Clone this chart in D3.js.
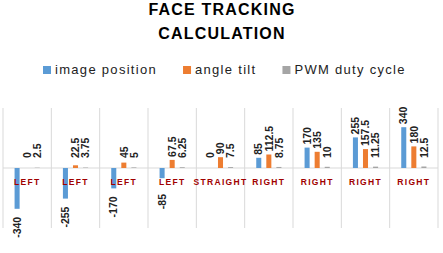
<!DOCTYPE html>
<html>
<head>
<meta charset="utf-8">
<script src="https://cdn.jsdelivr.net/npm/d3@7"></script>
<style>
  body { margin: 0; background: #fff; }
  text { font-family: Arial, "Liberation Sans", sans-serif; }
</style>
</head>
<body>
<div id="chart"></div>
<script>
// data
var categories = ["LEFT", "LEFT", "LEFT", "LEFT", "STRAIGHT", "RIGHT", "RIGHT", "RIGHT", "RIGHT"];
var seriesNames = ["image position", "angle tilt", "PWM duty cycle"];
var imagePosition = [-340, -255, -170, -85, 0, 85, 170, 255, 340];
var angleTilt = [0, 22.5, 45, 67.5, 90, 112.5, 135, 157.5, 180];
var pwmDuty = [2.5, 3.75, 5, 6.25, 7.5, 8.75, 10, 11.25, 12.5];
var titleLines = ["FACE TRACKING", "CALCULATION"];

var colors = ["#5b9bd5", "#ed7d31", "#a5a5a5"];
var W = 443, H = 253;

const svg = d3.select("#chart").append("svg")
    .attr("width", W)
    .attr("height", H);

// title
svg.selectAll(".title")
    .data(titleLines)
    .enter().append("text")
    .attr("class", "title")
    .attr("x", 222)
    .attr("y", (d, i) => 15 + i * 24)
    .attr("text-anchor", "middle")
    .attr("font-size", 16)
    .attr("font-weight", "bold")
    .attr("letter-spacing", 1.2)
    .attr("fill", "#000")
    .text(d => d);

// legend
const legend = svg.append("g").attr("transform", "translate(43,0)");
let lx = 0;
seriesNames.forEach(function(name, i) {
    const g = legend.append("g").attr("transform", "translate(" + lx + ",0)");
    g.append("rect")
        .attr("x", 0).attr("y", 66)
        .attr("width", 8).attr("height", 8)
        .attr("fill", colors[i]);
    const t = g.append("text")
        .attr("x", 12).attr("y", 74)
        .attr("font-size", 13)
        .attr("letter-spacing", 1.3)
        .attr("fill", "#222")
        .text(name);
    lx += 12 + t.node().getComputedTextLength() + 26;
});

// scales
const x = d3.scaleBand()
    .domain(d3.range(categories.length))
    .range([3, 438])
    .padding(0);

const xi = d3.scaleBand()
    .domain([0, 1, 2])
    .range([0, x.bandwidth()])
    .paddingInner(0.5)
    .paddingOuter(1.15);

const y = d3.scaleLinear()
    .domain([-500, 500])
    .range([228, 108]);

// vertical gridlines between categories
const gridX = d3.range(categories.length + 1).map(i => i < categories.length ? x(i) : x(i - 1) + x.bandwidth());
svg.selectAll(".grid")
    .data(gridX)
    .enter().append("line")
    .attr("class", "grid")
    .attr("x1", d => d).attr("x2", d => d)
    .attr("y1", y(500)).attr("y2", y(-500))
    .attr("stroke", "#d9d9d9")
    .attr("stroke-width", 1);

// zero axis
svg.append("line")
    .attr("x1", 3).attr("x2", 438)
    .attr("y1", y(0)).attr("y2", y(0))
    .attr("stroke", "#d9d9d9");

var table = categories.map(function(c, i) {
    return [imagePosition[i], angleTilt[i], pwmDuty[i]];
});

const groups = svg.selectAll(".cat")
    .data(table)
    .enter().append("g")
    .attr("class", "cat")
    .attr("transform", (d, i) => "translate(" + x(i) + ",0)");

groups.selectAll("rect")
    .data(d => d)
    .enter().append("rect")
    .attr("x", (d, j) => xi(j))
    .attr("width", xi.bandwidth())
    .attr("y", d => y(Math.max(0, d)))
    .attr("height", d => Math.abs(y(d) - y(0)))
    .attr("fill", (d, j) => colors[j]);

// category labels
svg.selectAll(".catlbl")
    .data(categories)
    .enter().append("text")
    .attr("class", "catlbl")
    .attr("x", (d, i) => x(i) + x.bandwidth() / 2)
    .attr("y", 185)
    .attr("text-anchor", "middle")
    .attr("font-size", 8.5)
    .attr("font-weight", "bold")
    .attr("letter-spacing", 1.3)
    .attr("fill", "#a00000")
    .text(d => d);

// data labels, rotated; kept clear of the category labels
groups.selectAll(".lbl")
    .data(d => d)
    .enter().append("text")
    .attr("class", "lbl")
    .attr("transform", function(d, j) {
        var cx = xi(j) + xi.bandwidth() / 2;
        var yy = d < 0 ? Math.max(y(d) + 8, 194) : Math.min(y(d) - 3, y(0) - 10);
        return "translate(" + cx + "," + yy + ") rotate(-90)";
    })
    .attr("text-anchor", d => d < 0 ? "end" : "start")
    .attr("dy", "0.35em")
    .attr("font-size", 10.5)
    .attr("font-weight", "bold")
    .attr("fill", "#222")
    .text(d => d);
</script>
</body>
</html>
